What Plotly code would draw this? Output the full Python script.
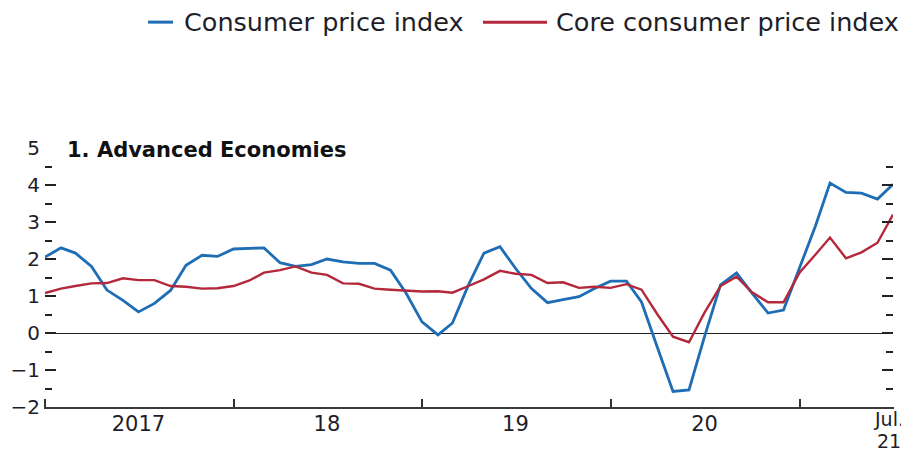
import pandas as pd
import plotly.graph_objects as go

# ---- data ----
months = pd.date_range("2017-01-01", "2021-07-01", freq="MS").strftime("%Y-%m-%d").tolist()

cpi = [2.05, 2.3, 2.16, 1.8, 1.16, 0.88, 0.57, 0.8, 1.15, 1.83, 2.1, 2.07,
       2.27, 2.28, 2.3, 1.9, 1.8, 1.85, 2.0, 1.92, 1.88, 1.88, 1.7, 1.08,
       0.3, -0.05, 0.27, 1.3, 2.16, 2.33, 1.75, 1.2, 0.82, 0.9, 0.98, 1.2,
       1.4, 1.4, 0.84, -0.4, -1.58, -1.54, -0.1, 1.3, 1.62, 1.08, 0.54, 0.62,
       1.75, 2.9, 4.05, 3.8, 3.78, 3.62, 4.02]

core_cpi = [1.08, 1.2, 1.27, 1.34, 1.35, 1.48, 1.43, 1.43, 1.27, 1.25, 1.2, 1.21,
            1.27, 1.42, 1.63, 1.7, 1.8, 1.63, 1.57, 1.34, 1.33, 1.2, 1.17, 1.14,
            1.12, 1.13, 1.09, 1.27, 1.45, 1.68, 1.6, 1.57, 1.35, 1.37, 1.22, 1.25,
            1.22, 1.32, 1.17, 0.5, -0.1, -0.25, 0.55, 1.27, 1.52, 1.1, 0.83, 0.83,
            1.63, 2.12, 2.58, 2.02, 2.18, 2.44, 3.2]

series_names = ["Consumer price index", "Core consumer price index"]
panel_title = "1. Advanced Economies"

x_label_dates = ["2017-07-01", "2018-07-01", "2019-07-01", "2020-07-01"]
x_label_text = ["2017", "18", "19", "20"]
last_label_lines = ["Jul.", "21"]
y_ticks = [-2, -1, 0, 1, 2, 3, 4, 5]

# ---- styling ----
BLUE = "#1f6db4"
RED = "#b3283a"
TXT = "#1e1e2a"
FONT = "DejaVu Sans"
colors = [BLUE, RED]

fig = go.Figure()
for name, vals, col, w in zip(series_names, [cpi, core_cpi], colors, [2.8, 2.4]):
    fig.add_trace(go.Scatter(x=months, y=vals, mode="lines", name=name,
                             line=dict(color=col, width=w), showlegend=False))

# custom legend (sample line + label), placed in paper coordinates above the plot
legend_items = [
    dict(x0=0.1215, x1=0.151, tx=0.1615),
    dict(x0=0.5165, x1=0.592, tx=0.600),
]
legend_y = 1.486
shapes = []
annotations = []
for item, name, col in zip(legend_items, series_names, colors):
    shapes.append(dict(type="line", xref="paper", yref="paper",
                       x0=item["x0"], x1=item["x1"], y0=legend_y, y1=legend_y,
                       line=dict(color=col, width=3)))
    annotations.append(dict(text=name, xref="paper", yref="paper",
                            x=item["tx"], y=legend_y, xanchor="left", yanchor="middle",
                            showarrow=False,
                            font=dict(family=FONT, size=25.5, color=TXT)))

annotations.append(dict(text="<b>" + panel_title + "</b>", xref="paper", yref="y",
                        x=0.024, y=4.95, xanchor="left", yanchor="middle",
                        showarrow=False, font=dict(family=FONT, size=21, color="#111")))
# last x label, two tight lines, at the final month
for line_text, ypos in zip(last_label_lines, [-0.0463, -0.1313]):
    annotations.append(dict(text=line_text, xref="x", yref="paper",
                            x=months[-1], y=ypos, xanchor="center", yanchor="middle",
                            xshift=-4, borderpad=0,
                            showarrow=False, font=dict(family=FONT, size=19, color=TXT)))

# page body adds an 8px offset, so the figure is sized to fit the 909x452 window
fig.update_layout(
    width=901, height=444,
    margin=dict(l=37, r=16, t=140, b=45, autoexpand=False),
    paper_bgcolor="white", plot_bgcolor="white",
    font=dict(family=FONT, color=TXT, size=20),
    showlegend=False,
    shapes=shapes,
    annotations=annotations,
)

fig.update_xaxes(
    type="date", automargin=False,
    range=[months[0], months[-1]],
    showgrid=False, zeroline=False,
    showline=True, linecolor="#3a3a3a", linewidth=1.6,
    tickmode="array", tickvals=x_label_dates, ticktext=x_label_text,
    ticks="", ticklen=0, ticklabelstandoff=-3,
    tickfont=dict(family=FONT, size=21, color=TXT),
    minor=dict(tickmode="linear", tick0="2017-01-01", dtick="M12",
               ticks="inside", ticklen=8, tickwidth=1.5, tickcolor="#333"),
)

fig.update_yaxes(
    automargin=False,
    range=[-2, 5],
    showgrid=False,
    zeroline=True, zerolinecolor="#222", zerolinewidth=1.2,
    showline=True, linecolor="rgba(0,0,0,0)", linewidth=1, mirror="allticks",
    tickmode="array", tickvals=y_ticks,
    ticks="inside", ticklen=11, tickwidth=1.5, tickcolor="#222",
    tickfont=dict(family=FONT, size=20, color=TXT),
    minor=dict(tickmode="linear", tick0=0.5, dtick=1,
               ticks="inside", ticklen=7, tickwidth=1.5, tickcolor="#222"),
)

fig.write_html("out.html")
